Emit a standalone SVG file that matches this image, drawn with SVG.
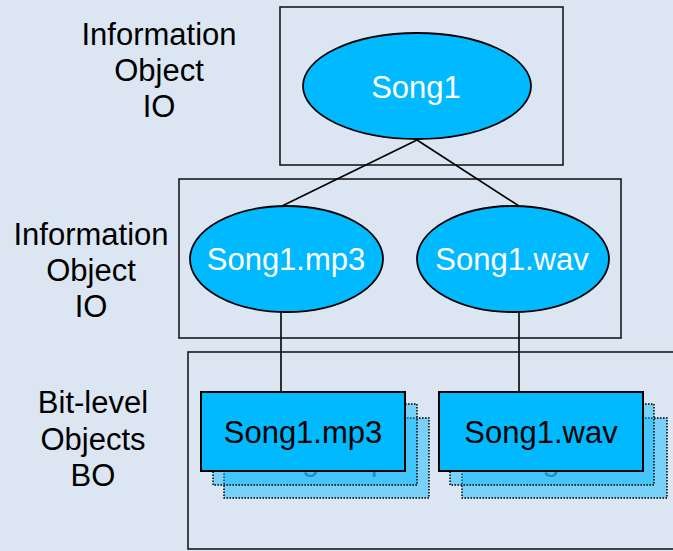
<svg xmlns="http://www.w3.org/2000/svg" width="673" height="551" viewBox="0 0 673 551">
  <style>
    .lbl { font-family: "Liberation Sans", Arial, sans-serif; font-size: 31px; text-anchor: middle; fill: #000; }
    .in-ell { fill: #fff; }
    .frame { fill: none; stroke: #1a1a1a; stroke-width: 1.6; }
    .ell { fill: #00B9FF; stroke: #000; stroke-width: 1.8; }
    .front { fill: #00B9FF; stroke: #000; stroke-width: 2; }
    .back { fill: #00B9FF; fill-opacity: 0.45; stroke: #000; stroke-width: 1.5; stroke-dasharray: 1.6 1.4; }
    .ghost { fill: #000; fill-opacity: 0.5; }
    .conn { stroke: #000; stroke-width: 1.6; fill: none; }
  </style>

  <rect width="673" height="551" fill="#DCE6F2"/>

  <!-- layer frames -->
  <g id="frames">
    <rect class="frame" x="280" y="7" width="283" height="158"/>
    <rect class="frame" x="179" y="179" width="442" height="159"/>
    <rect class="frame" x="188" y="352" width="500" height="197"/>
  </g>

  <!-- layer captions -->
  <g id="caption-io-top">
    <text class="lbl" x="159" y="45">Information</text>
    <text class="lbl" x="159" y="81">Object</text>
    <text class="lbl" x="159" y="117">IO</text>
  </g>
  <g id="caption-io-mid">
    <text class="lbl" x="91" y="245">Information</text>
    <text class="lbl" x="91" y="281">Object</text>
    <text class="lbl" x="91" y="317">IO</text>
  </g>
  <g id="caption-bo">
    <text class="lbl" x="93" y="413">Bit-level</text>
    <text class="lbl" x="93" y="450">Objects</text>
    <text class="lbl" x="93" y="486">BO</text>
  </g>

  <!-- connectors -->
  <g id="connectors">
    <line class="conn" x1="417" y1="140" x2="282" y2="206"/>
    <line class="conn" x1="417" y1="140" x2="519" y2="206"/>
    <line class="conn" x1="281" y1="312" x2="281" y2="392"/>
    <line class="conn" x1="519" y1="312" x2="519" y2="392"/>
  </g>

  <!-- information objects -->
  <g id="song1">
    <ellipse class="ell" cx="417" cy="86" rx="114" ry="53"/>
    <text class="lbl in-ell" x="416" y="98">Song1</text>
  </g>
  <g id="song1-mp3-io">
    <ellipse class="ell" cx="286.5" cy="259" rx="96.5" ry="53"/>
    <text class="lbl in-ell" x="286" y="270">Song1.mp3</text>
  </g>
  <g id="song1-wav-io">
    <ellipse class="ell" cx="513" cy="259" rx="96" ry="53"/>
    <text class="lbl in-ell" x="512" y="270">Song1.wav</text>
  </g>

  <!-- bit-level objects: stacked copies -->
  <g id="song1-mp3-bo">
    <rect class="back" x="224" y="418" width="205" height="80"/>
    <text class="lbl ghost" x="326" y="470">Song1.mp3</text>
    <rect class="back" x="213" y="404" width="204" height="81"/>
    <rect class="front" x="201" y="392" width="204" height="79"/>
    <text class="lbl" x="303" y="443">Song1.mp3</text>
  </g>
  <g id="song1-wav-bo">
    <rect class="back" x="462" y="418" width="205" height="80"/>
    <text class="lbl ghost" x="564" y="470">Song1.wav</text>
    <rect class="back" x="450" y="404" width="204" height="81"/>
    <rect class="front" x="439" y="392" width="204" height="79"/>
    <text class="lbl" x="541" y="443">Song1.wav</text>
  </g>
</svg>
